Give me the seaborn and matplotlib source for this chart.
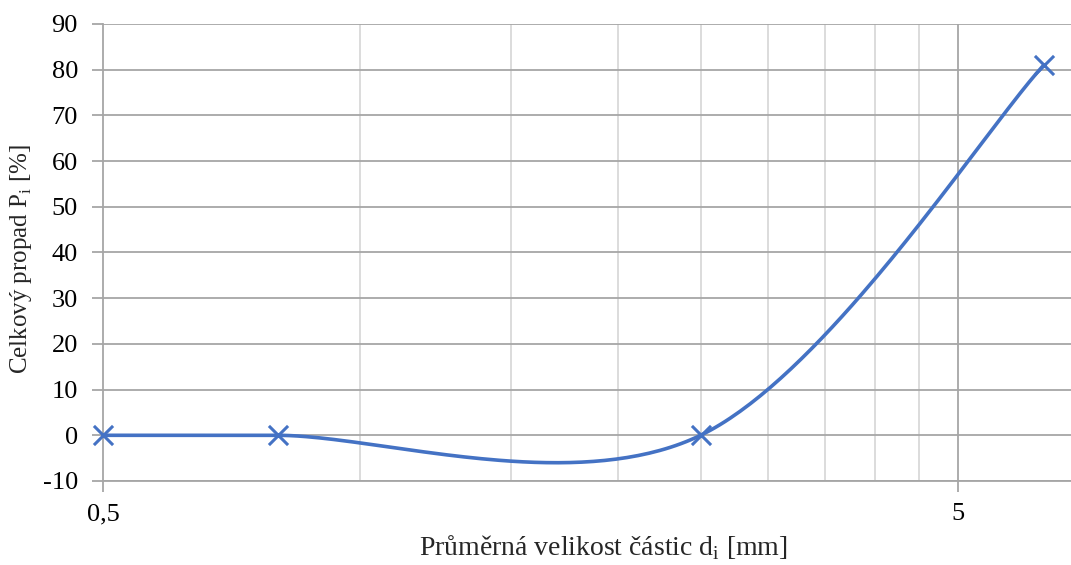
import numpy as np
import pandas as pd
import matplotlib
matplotlib.use("Agg")
import matplotlib.pyplot as plt
import matplotlib.ticker as mticker
import seaborn as sns

# data
velikost = [0.5, 0.8, 2.5, 6.3]      # d_i [mm]
propad = [0.0, 0.0, 0.0, 81.0]        # P_i [%]
major_ticks = [0.5, 5]
major_labels = ["0,5", "5"]
minor_ticks = [1, 1.5, 2, 2.5, 3, 3.5, 4, 4.5]
y_ticks = list(range(-10, 91, 10))

sns.set_theme(style="white")
plt.rcParams['font.family'] = ['Liberation Serif', 'DejaVu Serif']
plt.rcParams['mathtext.fontset'] = 'custom'
plt.rcParams['mathtext.rm'] = 'Liberation Serif'
plt.rcParams['axes.unicode_minus'] = False

W, H = 1071, 565
fig = plt.figure(figsize=(W / 100, H / 100), dpi=100)
ax = fig.add_axes([103 / W, 1 - 481 / H, (W - 103) / W, (481 - 24) / H])

xmin, xmax = 0.5, 6.78
ymin, ymax = -10, 90
ax.set_xscale('log')
ax.set_xlim(xmin, xmax)
ax.set_ylim(ymin, ymax)

# Excel-style smoothed line: cubic Bezier through the points in screen space
ax_w = (W - 103)
ax_h = (481 - 24)
px_dec = ax_w / (np.log10(xmax) - np.log10(xmin))
px_unit = ax_h / (ymax - ymin)
P = np.column_stack([np.log10(velikost) * px_dec, np.array(propad) * px_unit])
n = len(P)
curve = []
t = np.linspace(0, 1, 80)[:, None]
for i in range(n - 1):
    p0 = P[i - 1] if i > 0 else P[i]
    p1, p2 = P[i], P[i + 1]
    p3 = P[i + 2] if i + 2 < n else P[i + 1]
    c1 = p1 + (p2 - p0) / 6
    c2 = p2 - (p3 - p1) / 6
    seg = (1 - t) ** 3 * p1 + 3 * (1 - t) ** 2 * t * c1 + 3 * (1 - t) * t ** 2 * c2 + t ** 3 * p2
    curve.append(seg)
curve = np.vstack(curve)
smooth = pd.DataFrame({'x': 10 ** (curve[:, 0] / px_dec), 'y': curve[:, 1] / px_unit})

blue = '#4472C4'
sns.lineplot(data=smooth, x='x', y='y', sort=False, color=blue, lw=2.6, ax=ax, zorder=3)
sns.scatterplot(x=velikost, y=propad, marker='x', s=190, color=blue, linewidth=2.2, ax=ax, zorder=4)
for c in ax.collections:
    c.set_clip_on(False)

# grid
for y in y_ticks:
    ax.axhline(y, color='#a6a6a6', lw=1.3, zorder=1)
for xm in minor_ticks:
    ax.axvline(xm, color='#d9d9d9', lw=1.3, zorder=0)
ax.axvline(5, color='#a6a6a6', lw=1.3, zorder=1)

ax.xaxis.set_major_locator(mticker.FixedLocator(major_ticks))
ax.xaxis.set_major_formatter(mticker.FixedFormatter(major_labels))
ax.xaxis.set_minor_locator(mticker.NullLocator())
ax.set_yticks(y_ticks)

for s in ['top', 'right']:
    ax.spines[s].set_visible(False)
for s in ['left', 'bottom']:
    ax.spines[s].set_color('#a6a6a6')
    ax.spines[s].set_linewidth(1.3)

ax.tick_params(axis='both', which='major', length=8, width=1.3, color='#a6a6a6',
               labelsize=19, labelcolor='black', bottom=True, left=True)
ax.tick_params(axis='y', pad=10)
ax.tick_params(axis='x', pad=8)

ax.set_xlabel(r'Průměrná velikost částic d$_\mathregular{i}$ [mm]', fontsize=20)
ax.set_ylabel(r'Celkový propad P$_\mathregular{i}$ [%]', fontsize=18)
# label placement as in the reference (x label a bit right of centre)
ax.xaxis.set_label_coords((603 - 103) / ax_w, (481 - 533) / ax_h)
ax.yaxis.set_label_coords((34 - 103) / ax_w, (481 - 259) / ax_h)
ax.set_facecolor('white')
fig.patch.set_facecolor('white')

fig.savefig('out.png', dpi=100)
